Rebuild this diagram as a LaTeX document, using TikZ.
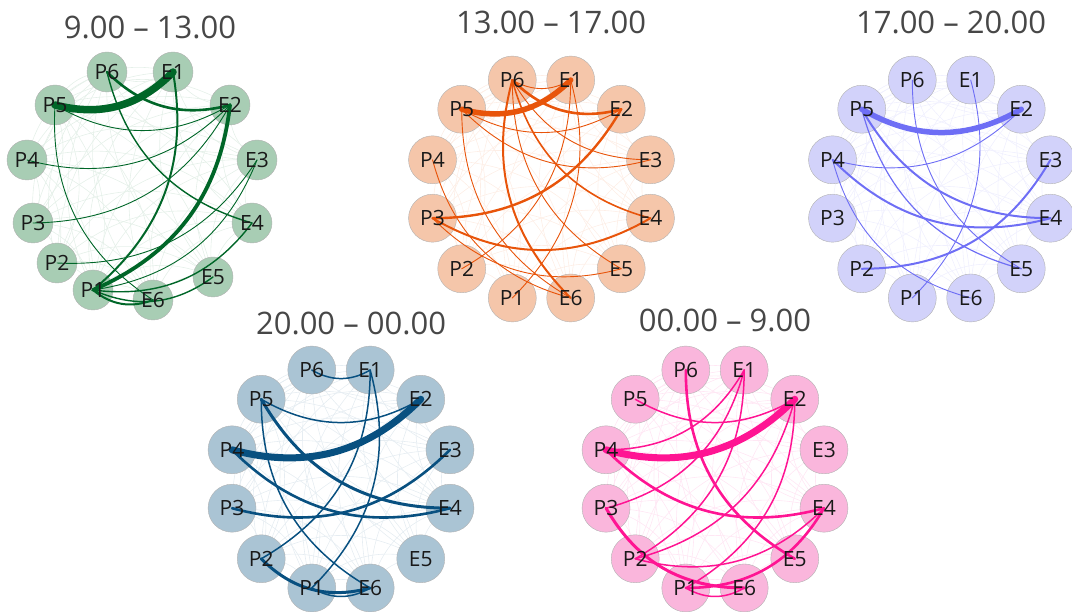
\documentclass[tikz,border=0pt]{standalone}
\usepackage{fontspec}
\setmainfont{Open Sans}
\usetikzlibrary{calc}
% palette per time slot
\definecolor{morFill}{RGB}{168,205,180}
\definecolor{morEdge}{RGB}{0,102,40}
\definecolor{aftFill}{RGB}{245,198,170}
\definecolor{aftEdge}{RGB}{232,84,10}
\definecolor{eveFill}{RGB}{210,210,250}
\definecolor{eveEdge}{RGB}{110,110,245}
\definecolor{ngtFill}{RGB}{170,196,212}
\definecolor{ngtEdge}{RGB}{8,80,128}
\definecolor{erlFill}{RGB}{250,182,220}
\definecolor{erlEdge}{RGB}{255,20,147}
\tikzset{
  vtx/.style 2 args={circle,draw=gray!60,fill=#1,minimum size=#2,inner sep=0pt},
  lbl/.style={font=\fontsize{21}{21}\selectfont,text=black!90,inner sep=0pt},
  ttl/.style={font=\fontsize{31}{31}\selectfont,text=black!72,inner sep=0pt},
  lnk/.style 2 args={draw=#1,line width=#2,line cap=round},
  faint/.style={draw=#1!10,line width=0.6pt},
}
\begin{document}
\begin{tikzpicture}[x=1pt,y=1pt]
\useasboundingbox (0,0) rectangle (1072,-612);

% --- Titles ----------------------------------------------------------------
\node[ttl] (tmor) at (150,-27) {9.00 – 13.00};
\node[ttl] (taft) at (551,-22) {13.00 – 17.00};
\node[ttl] (teve) at (951,-22) {17.00 – 20.00};
\node[ttl] (tngt) at (351,-323) {20.00 – 00.00};
\node[ttl] (terl) at (725,-320) {00.00 – 9.00};

% --- Vertex positions --------------------------------------------------------
\foreach \n/\x/\y in {P6/107/72,E1/173/72,E2/230/105,E3/257/160,E4/252/223,E5/213/277,
                      E6/153/300,P1/93/290,P2/57/263,P3/33/223,P4/27/160,P5/55/105}
  \coordinate (mor\n) at (\x,-\y);

\foreach \pre/\cx/\cy in {aft/541.5/189,eve/941.5/189,ngt/341/479,erl/715/479}
  \foreach \n/\a in {P6/105,E1/75,E2/45,E3/15,E4/-15,E5/-45,E6/-75,P1/-105,P2/-135,P3/-165,P4/165,P5/135}
    \coordinate (\pre\n) at ($(\cx,-\cy)+(\a:112.8)$);

% --- Faint background web --------------------------------------------------
\foreach \pre in {mor,aft,eve,ngt,erl}
  \foreach \a [count=\i] in {P6,E1,E2,E3,E4,E5,E6,P1,P2,P3,P4,P5}
    \foreach \b [count=\j] in {P6,E1,E2,E3,E4,E5,E6,P1,P2,P3,P4,P5}
    {
      \ifnum\j>\i
        \draw[faint=\pre Edge] (\pre\a) to[bend right=30] (\pre\b);
      \fi
    }

% --- Vertex discs ------------------------------------------------------------
\foreach \n in {P1,P2,P3,P4,P5,P6,E1,E2,E3,E4,E5,E6}
  \node[vtx={morFill}{40pt}] (mor\n v) at (mor\n) {};
\foreach \pre in {aft,eve,ngt,erl}
  \foreach \n in {P1,P2,P3,P4,P5,P6,E1,E2,E3,E4,E5,E6}
    \node[vtx={\pre Fill}{48pt}] (\pre\n v) at (\pre\n) {};

% --- Edges -----------------------------------------------------------------
\foreach \a/\b/\w in {P5/E1/7.5,P6/E2/2.6,P1/E1/2,P1/E2/3.8,P5/E2/0.9,P4/E2/0.9,P3/E2/0.9,
                      P2/E3/0.9,P6/E4/1.4,P5/E6/0.9,P1/E4/1.4,P1/E5/1.4,P1/E6/2,P1/E3/0.9}
  \draw[lnk={morEdge}{\w pt}] (mor\a v.center) to[bend right=30] (mor\b v.center);

\foreach \a/\b/\w in {P5/E1/5.5,P6/E2/2.6,P6/E1/0.9,P3/E2/2.4,P3/E4/2,P6/E6/2,P6/E4/1.6,P6/E5/0.9,
                      P6/E3/0.9,P5/E2/0.9,P5/E3/0.9,P5/E6/0.9,P4/E6/0.9,P3/E5/0.9,P2/E1/0.9,P1/E1/0.9}
  \draw[lnk={aftEdge}{\w pt}] (aft\a v.center) to[bend right=30] (aft\b v.center);

\foreach \a/\b/\w in {P5/E2/5.5,P4/E2/0.9,P5/E4/2,P4/E4/2,P5/E5/1.2,P6/E5/0.9,P1/E1/0.9,P4/E6/0.9,P2/E3/2}
  \draw[lnk={eveEdge}{\w pt}] (eve\a v.center) to[bend right=30] (eve\b v.center);

\foreach \a/\b/\w in {P4/E2/7,P6/E1/1.5,P5/E2/1.5,P5/E4/3,P4/E4/2.6,P3/E3/2.6,P5/E6/1.5,
                      P2/E1/1.5,P1/E1/1.5,P2/E6/3,P1/E6/1.5}
  \draw[lnk={ngtEdge}{\w pt}] (ngt\a v.center) to[bend right=30] (ngt\b v.center);

\foreach \a/\b/\w in {P4/E2/7,P5/E2/1.5,P4/E1/1.5,P3/E1/1.5,P2/E1/1.5,P2/E2/1.5,P1/E2/1.5,
                      P6/E5/2.6,P4/E4/2.6,P3/E6/3,P2/E4/1.5,P1/E4/2.6,P1/E6/1.5}
  \draw[lnk={erlEdge}{\w pt}] (erl\a v.center) to[bend right=30] (erl\b v.center);

% --- Labels ----------------------------------------------------------------
\foreach \pre in {mor,aft,eve,ngt,erl}
  \foreach \n in {P1,P2,P3,P4,P5,P6,E1,E2,E3,E4,E5,E6}
    \node[lbl] (\pre\n l) at (\pre\n) {\n};
\end{tikzpicture}
\end{document}
